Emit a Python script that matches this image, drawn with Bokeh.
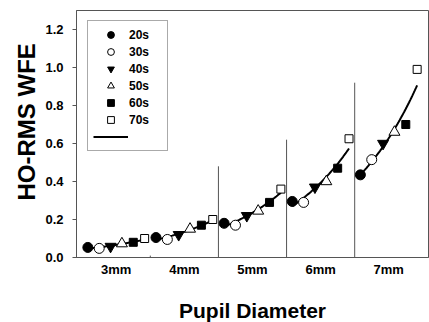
import numpy as np
from bokeh.plotting import figure
from bokeh.models import (Legend, LegendItem, FixedTicker, NumeralTickFormatter,
                          Range1d, ColumnDataSource, Title)
from bokeh.embed import file_html
from bokeh.resources import INLINE

# ---------------- data ----------------
pupil_sizes = ["3mm", "4mm", "5mm", "6mm", "7mm"]
age_groups = ["20s", "30s", "40s", "50s", "60s", "70s"]
# HO-RMS WFE per pupil diameter, ordered by age group 20s..70s
wfe_3mm = [0.053, 0.048, 0.058, 0.073, 0.080, 0.100]
wfe_4mm = [0.105, 0.095, 0.120, 0.150, 0.170, 0.200]
wfe_5mm = [0.180, 0.170, 0.220, 0.245, 0.290, 0.360]
wfe_6mm = [0.295, 0.290, 0.370, 0.400, 0.470, 0.625]
wfe_7mm = [0.435, 0.515, 0.600, 0.660, 0.700, 0.990]
separator_heights = [0.01, 0.48, 0.62, 0.92]
y_ticks = [0.0, 0.2, 0.4, 0.6, 0.8, 1.0, 1.2]

groups = [wfe_3mm, wfe_4mm, wfe_5mm, wfe_6mm, wfe_7mm]
n_age = len(age_groups)

FONT = "Liberation Sans"
GRAY = "#555555"

p = figure(frame_width=352, frame_height=247, output_backend="svg",
           toolbar_location=None,
           x_range=Range1d(-1, n_age * len(groups)), y_range=Range1d(0, 1.3),
           min_border_left=76, min_border_right=1, min_border_top=10,
           min_border_bottom=10)
p.xgrid.visible = False
p.ygrid.visible = False
p.outline_line_color = GRAY
p.outline_line_width = 1

# separators between pupil-diameter groups
sep_x = [(g + 1) * n_age - 0.5 for g in range(len(separator_heights))]
p.segment(x0=sep_x, y0=[0] * len(sep_x), x1=sep_x, y1=separator_heights,
          line_color=GRAY, line_width=1)

# exponential fit per pupil diameter
curve_renderers = []
for g, vals in enumerate(groups):
    xs = np.arange(n_age) + g * n_age
    b, a = np.polyfit(xs, np.log(vals), 1)
    xf = np.linspace(xs[0], xs[-1], 50)
    r = p.line(xf, np.exp(a + b * xf), line_color="black", line_width=2)
    curve_renderers.append(r)

# markers per age group
styles = [
    dict(marker="circle", size=10, fill_color="black"),
    dict(marker="circle", size=10, fill_color="white"),
    dict(marker="inverted_triangle", size=11, fill_color="black"),
    dict(marker="triangle", size=11, fill_color="white"),
    dict(marker="square", size=8, fill_color="black"),
    dict(marker="square", size=8, fill_color="white"),
]
items = []
for i, age in enumerate(age_groups):
    src = ColumnDataSource(dict(
        x=[g * n_age + i for g in range(len(groups))],
        y=[vals[i] for vals in groups]))
    st = styles[i]
    r = p.scatter("x", "y", source=src, marker=st["marker"], size=st["size"],
                  fill_color=st["fill_color"], line_color="black", line_width=1)
    items.append(LegendItem(label=age, renderers=[r]))
items.append(LegendItem(label=" ", renderers=[curve_renderers[0]]))

legend = Legend(items=items, location=(11, 106), glyph_width=35, glyph_height=17,
                label_height=17, label_width=33, label_standoff=1, spacing=0,
                padding=5, margin=0, border_line_color=GRAY, border_line_width=1,
                label_text_font=FONT, label_text_font_size="12px",
                label_text_font_style="bold", label_text_color="black")
p.add_layout(legend)

# y axis
p.yaxis.ticker = FixedTicker(ticks=y_ticks)
p.yaxis.formatter = NumeralTickFormatter(format="0.0")
p.yaxis.major_label_text_font = FONT
p.yaxis.major_label_text_font_size = "13px"
p.yaxis.major_label_text_font_style = "bold"
p.yaxis.major_label_text_color = "black"
p.yaxis.major_tick_out = 4
p.yaxis.major_tick_in = 0
p.yaxis.minor_tick_line_color = None
p.yaxis.major_label_standoff = 9
p.yaxis.axis_line_color = GRAY
p.yaxis.major_tick_line_color = GRAY

# y axis title (left-side title, anchored at the bottom and nudged up)
ytitle = Title(text="HO-RMS WFE", align="left", offset=57, standoff=6,
               text_font=FONT, text_font_size="24px", text_font_style="bold",
               text_color="black")
p.add_layout(ytitle, "left")

# x axis
x_tick_pos = [g * n_age + (n_age - 1) / 2 for g in range(len(pupil_sizes))]
p.xaxis.ticker = FixedTicker(ticks=x_tick_pos)
p.xaxis.major_label_overrides = {t: lab for t, lab in zip(x_tick_pos, pupil_sizes)}
p.xaxis.axis_label = "Pupil Diameter"
p.xaxis.axis_label_text_font = FONT
p.xaxis.axis_label_text_font_size = "21px"
p.xaxis.axis_label_text_font_style = "bold"
p.xaxis.axis_label_text_color = "black"
p.xaxis.axis_label_standoff = 19
p.xaxis.major_label_text_font = FONT
p.xaxis.major_label_text_font_size = "13px"
p.xaxis.major_label_text_font_style = "bold"
p.xaxis.major_label_text_color = "black"
p.xaxis.major_tick_out = 0
p.xaxis.major_tick_in = 0
p.xaxis.minor_tick_line_color = None
p.xaxis.major_label_standoff = 4
p.xaxis.axis_line_color = GRAY

open("out.html", "w").write(file_html(p, INLINE))
